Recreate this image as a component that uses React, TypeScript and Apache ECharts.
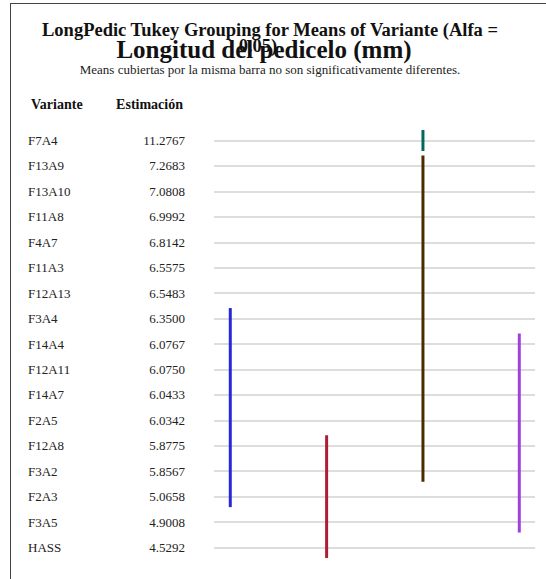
import React, { useEffect, useRef } from "react";
import * as echarts from "echarts";

const variants = [
  "F7A4", "F13A9", "F13A10", "F11A8", "F4A7", "F11A3", "F12A13", "F3A4", "F14A4",
  "F12A11", "F14A7", "F2A5", "F12A8", "F3A2", "F2A3", "F3A5", "HASS",
];
const estimates = [
  "11.2767", "7.2683", "7.0808", "6.9992", "6.8142", "6.5575", "6.5483", "6.3500", "6.0767",
  "6.0750", "6.0433", "6.0342", "5.8775", "5.8567", "5.0658", "4.9008", "4.5292",
];
// Tukey groups: column where the bar is drawn, first and last variant covered
const groupColumns = [3, 3, 1, 4, 2];
const groupStart = ["F7A4", "F13A9", "F3A4", "F14A4", "F12A8"];
const groupEnd = ["F7A4", "F3A2", "F2A3", "F3A5", "HASS"];
const groupColors = ["#006b5c", "#4a2c00", "#2828d8", "#a040e0", "#b01c36"];

const SERIF = "'Liberation Serif', 'Times New Roman', serif";

export default function App() {
  const ref = useRef<HTMLDivElement>(null);

  useEffect(() => {
    if (!ref.current) return;
    const chart = echarts.init(ref.current, undefined, { renderer: "svg" });

    const groupData = groupColumns.map((c, i) => [
      c,
      variants.indexOf(groupStart[i]),
      variants.indexOf(groupEnd[i]),
      i,
    ]);

    const option: any = {
      animation: false,
      backgroundColor: "#ffffff",
      grid: { left: 214, right: 11, top: 140.5, height: 407, containLabel: false },
      xAxis: { type: "value", min: 0.831, max: 4.163, show: false },
      yAxis: [
        {
          type: "category",
          data: variants,
          inverse: true,
          boundaryGap: false,
          position: "left",
          axisLine: { show: false },
          axisTick: { show: false },
          axisLabel: {
            margin: 186,
            align: "left",
            fontFamily: SERIF,
            fontSize: 13,
            color: "#222",
          },
          splitLine: { show: true, lineStyle: { color: "#d2d2d2", width: 1.5 } },
        },
        {
          type: "category",
          data: estimates,
          inverse: true,
          boundaryGap: false,
          position: "left",
          offset: 0,
          axisLine: { show: false },
          axisTick: { show: false },
          axisLabel: {
            margin: 29,
            align: "right",
            fontFamily: SERIF,
            fontSize: 13,
            color: "#222",
          },
          splitLine: { show: false },
        },
      ],
      series: [
        {
          type: "custom",
          xAxisIndex: 0,
          yAxisIndex: 0,
          clip: false,
          encode: { x: 0, y: [1, 2] },
          data: groupData,
          renderItem: (params: any, api: any) => {
            const col = api.value(0);
            const s = api.value(1);
            const e = api.value(2);
            const ci = api.value(3);
            const p1 = api.coord([col, s]);
            const p2 = api.coord([col, e]);
            const ext = 10.5;
            return {
              type: "rect",
              shape: { x: p1[0] - 1.5, y: p1[1] - ext, width: 3, height: p2[1] - p1[1] + 2 * ext },
              style: { fill: groupColors[ci] },
            };
          },
        },
      ],
      graphic: {
        elements: [
          {
            type: "text",
            x: 270,
            y: 30,
            style: {
              text: "LongPedic Tukey Grouping for Means of Variante (Alfa =",
              font: `bold 18.5px ${SERIF}`,
              fill: "#111",
              textAlign: "center",
              textVerticalAlign: "middle",
            },
          },
          {
            type: "text",
            x: 264,
            y: 49,
            style: {
              text: "Longitud del pedicelo (mm)",
              font: `bold 25px ${SERIF}`,
              fill: "#111",
              textAlign: "center",
              textVerticalAlign: "middle",
            },
          },
          {
            type: "text",
            x: 258,
            y: 46,
            style: {
              text: "0.05)",
              font: `bold 18.5px ${SERIF}`,
              fill: "#111",
              textAlign: "center",
              textVerticalAlign: "middle",
            },
          },
          {
            type: "text",
            x: 270,
            y: 69,
            style: {
              text: "Means cubiertas por la misma barra no son significativamente diferentes.",
              font: `13px ${SERIF}`,
              fill: "#222",
              textAlign: "center",
              textVerticalAlign: "middle",
            },
          },
          {
            type: "text",
            x: 31,
            y: 104,
            style: {
              text: "Variante",
              font: `bold 14px ${SERIF}`,
              fill: "#111",
              textAlign: "left",
              textVerticalAlign: "middle",
            },
          },
          {
            type: "text",
            x: 183,
            y: 104,
            style: {
              text: "Estimación",
              font: `bold 14px ${SERIF}`,
              fill: "#111",
              textAlign: "right",
              textVerticalAlign: "middle",
            },
          },
        ],
      },
    };

    chart.setOption(option);
    return () => chart.dispose();
  }, []);

  return (
    <div style={{ position: "fixed", left: 0, top: 0, width: 546, height: 579, background: "#fff" }}>
      <div ref={ref} style={{ position: "absolute", left: 0, top: 0, width: 546, height: 579 }} />
      <div
        style={{
          position: "absolute",
          left: 10,
          top: 3,
          width: 560,
          height: 600,
          borderLeft: "1.5px solid #444",
          borderTop: "1.5px solid #444",
          pointerEvents: "none",
        }}
      />
    </div>
  );
}
